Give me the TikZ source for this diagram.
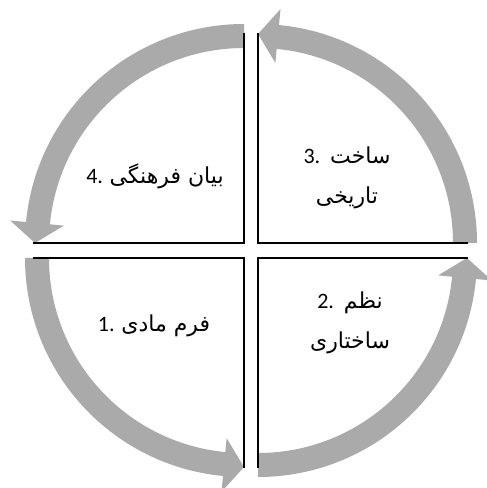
\documentclass[tikz,border=0pt]{standalone}
\usepackage{fontspec}
\TeXXeTstate=1
\newfontfamily\arabicfont[Script=Arabic]{DejaVu Sans}
\newfontfamily\digitfont{Carlito}
\definecolor{arrowgray}{RGB}{170,170,170}
\newcommand{\fa}[1]{{\arabicfont\beginR #1\endR}}
\begin{document}
\begin{tikzpicture}[x=1pt,y=1pt,
  divline/.style={line width=1.6pt, black, line join=miter},
  lbl/.style={font=\fontsize{22}{40}\selectfont\digitfont, align=center, inner sep=0pt}]
\useasboundingbox (0,0) rectangle (487,488);
% curved arrows
\foreach \cx/\cy/\a in {258/245/0, 244/245/90, 244/230/180, 258/230/270} {
  \fill[arrowgray, shift={(\cx,\cy)}]
    (\a:195) arc[start angle=\a, end angle=\a+84.5, radius=195]
    -- ({\a+84.5}:181) -- ({\a+90}:209) -- ({\a+84.5}:235)
    -- ({\a+84.5}:219) arc[start angle=\a+84.5, end angle=\a, radius=219] -- cycle;
}
% dividing lines
\draw[divline] (244,455) -- (244,245) -- (33,245);
\draw[divline] (258,455) -- (258,245) -- (468,245);
\draw[divline] (33,230) -- (244,230) -- (244,20);
\draw[divline] (258,20) -- (258,230) -- (468,230);
% labels
\node[lbl] (t4) at (155,312) {4. \fa{بیان فرهنگی}};
\node[lbl] (t3) at (347,310) {3.\ \ \fa{ساخت}\\\fa{تاریخی}};
\node[lbl] (t2) at (350,165) {2.\ \ \fa{نظم}\\\fa{ساختاری}};
\node[lbl] (t1) at (154,162) {1. \fa{فرم مادی}};
\end{tikzpicture}
\end{document}
